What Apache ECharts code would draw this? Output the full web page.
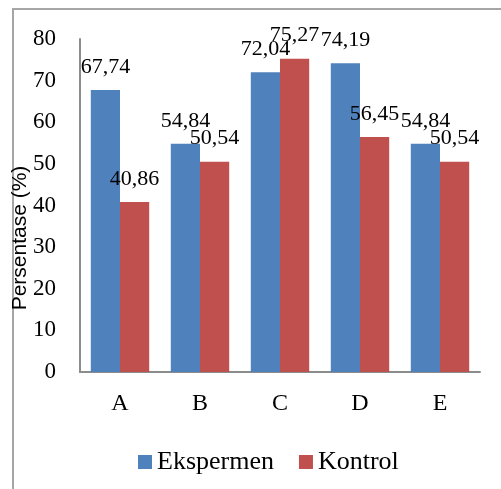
<!DOCTYPE html>
<html>
<head>
<meta charset="utf-8">
<script src="https://cdn.jsdelivr.net/npm/echarts@6/dist/echarts.min.js"></script>
<style>
  html, body { margin: 0; padding: 0; background: #fff; }
  #chart { width: 501px; height: 489px; }
</style>
</head>
<body>
<div id="chart"></div>
<script>
// Categories and percentages per group
const categories = ['A', 'B', 'C', 'D', 'E'];
const eksperimenValues = [67.74, 54.84, 72.04, 74.19, 54.84];
const kontrolValues = [40.86, 50.54, 75.27, 56.45, 50.54];
const seriesNames = ['Ekspermen', 'Kontrol'];
const axisTitle = 'Persentase (%)';

const serif = 'Liberation Serif, Times New Roman, serif';

const chart = echarts.init(document.getElementById('chart'), null, { renderer: 'canvas' });

// Decimal comma, as written in the labels
const fmt = p => p.value.toFixed(2).replace('.', ',');

const labelStyle = {
  show: true,
  position: 'top',
  distance: 12,
  fontFamily: serif,
  fontSize: 22,
  lineHeight: 22,
  color: '#000',
  formatter: fmt
};

chart.setOption({
  animation: false,
  backgroundColor: '#fff',
  graphic: [
    {
      type: 'rect',
      shape: { x: 13, y: 9, width: 600, height: 600 },
      style: { fill: 'none', stroke: '#a6a6a6', lineWidth: 2 },
      z: 0
    },
    {
      // vertical axis title, slightly below the plot's middle, with a soft shadow
      type: 'text',
      x: 20,
      y: 238,
      rotation: Math.PI / 2,
      style: {
        text: axisTitle,
        fontFamily: 'Liberation Sans, Arial, sans-serif',
        fontSize: 21,
        fill: '#000',
        align: 'center',
        verticalAlign: 'middle',
        shadowColor: 'rgba(0,0,0,0.35)',
        shadowBlur: 4,
        shadowOffsetX: 2,
        shadowOffsetY: 2
      },
      z: 10
    }
  ],
  grid: { left: 80, top: 39, right: 21, bottom: 117, containLabel: false, outerBoundsMode: 'none' },
  legend: {
    data: seriesNames,
    left: 133,
    top: 444,
    itemWidth: 14,
    itemHeight: 14,
    itemGap: 25,
    icon: 'rect',
    textStyle: { fontFamily: serif, fontSize: 26, color: '#000' }
  },
  xAxis: {
    type: 'category',
    data: categories,
    axisLine: { lineStyle: { color: '#8c8c8c', width: 2 } },
    axisTick: { show: false },
    axisLabel: { fontFamily: serif, fontSize: 24, color: '#000', margin: 20 }
  },
  yAxis: {
    type: 'value',
    min: 0,
    max: 80,
    interval: 10,
    axisLine: { show: true, lineStyle: { color: '#8c8c8c', width: 2 } },
    axisTick: { show: false },
    splitLine: { show: false },
    axisLabel: { fontFamily: serif, fontSize: 23, color: '#000', margin: 24 }
  },
  series: [
    {
      name: seriesNames[0],
      type: 'bar',
      data: eksperimenValues,
      barGap: '0%',
      barCategoryGap: '27%',
      itemStyle: { color: '#4F81BD' },
      label: labelStyle
    },
    {
      name: seriesNames[1],
      type: 'bar',
      data: kontrolValues,
      barGap: '0%',
      barCategoryGap: '27%',
      itemStyle: { color: '#C0504D' },
      label: labelStyle
    }
  ]
});
</script>
</body>
</html>
